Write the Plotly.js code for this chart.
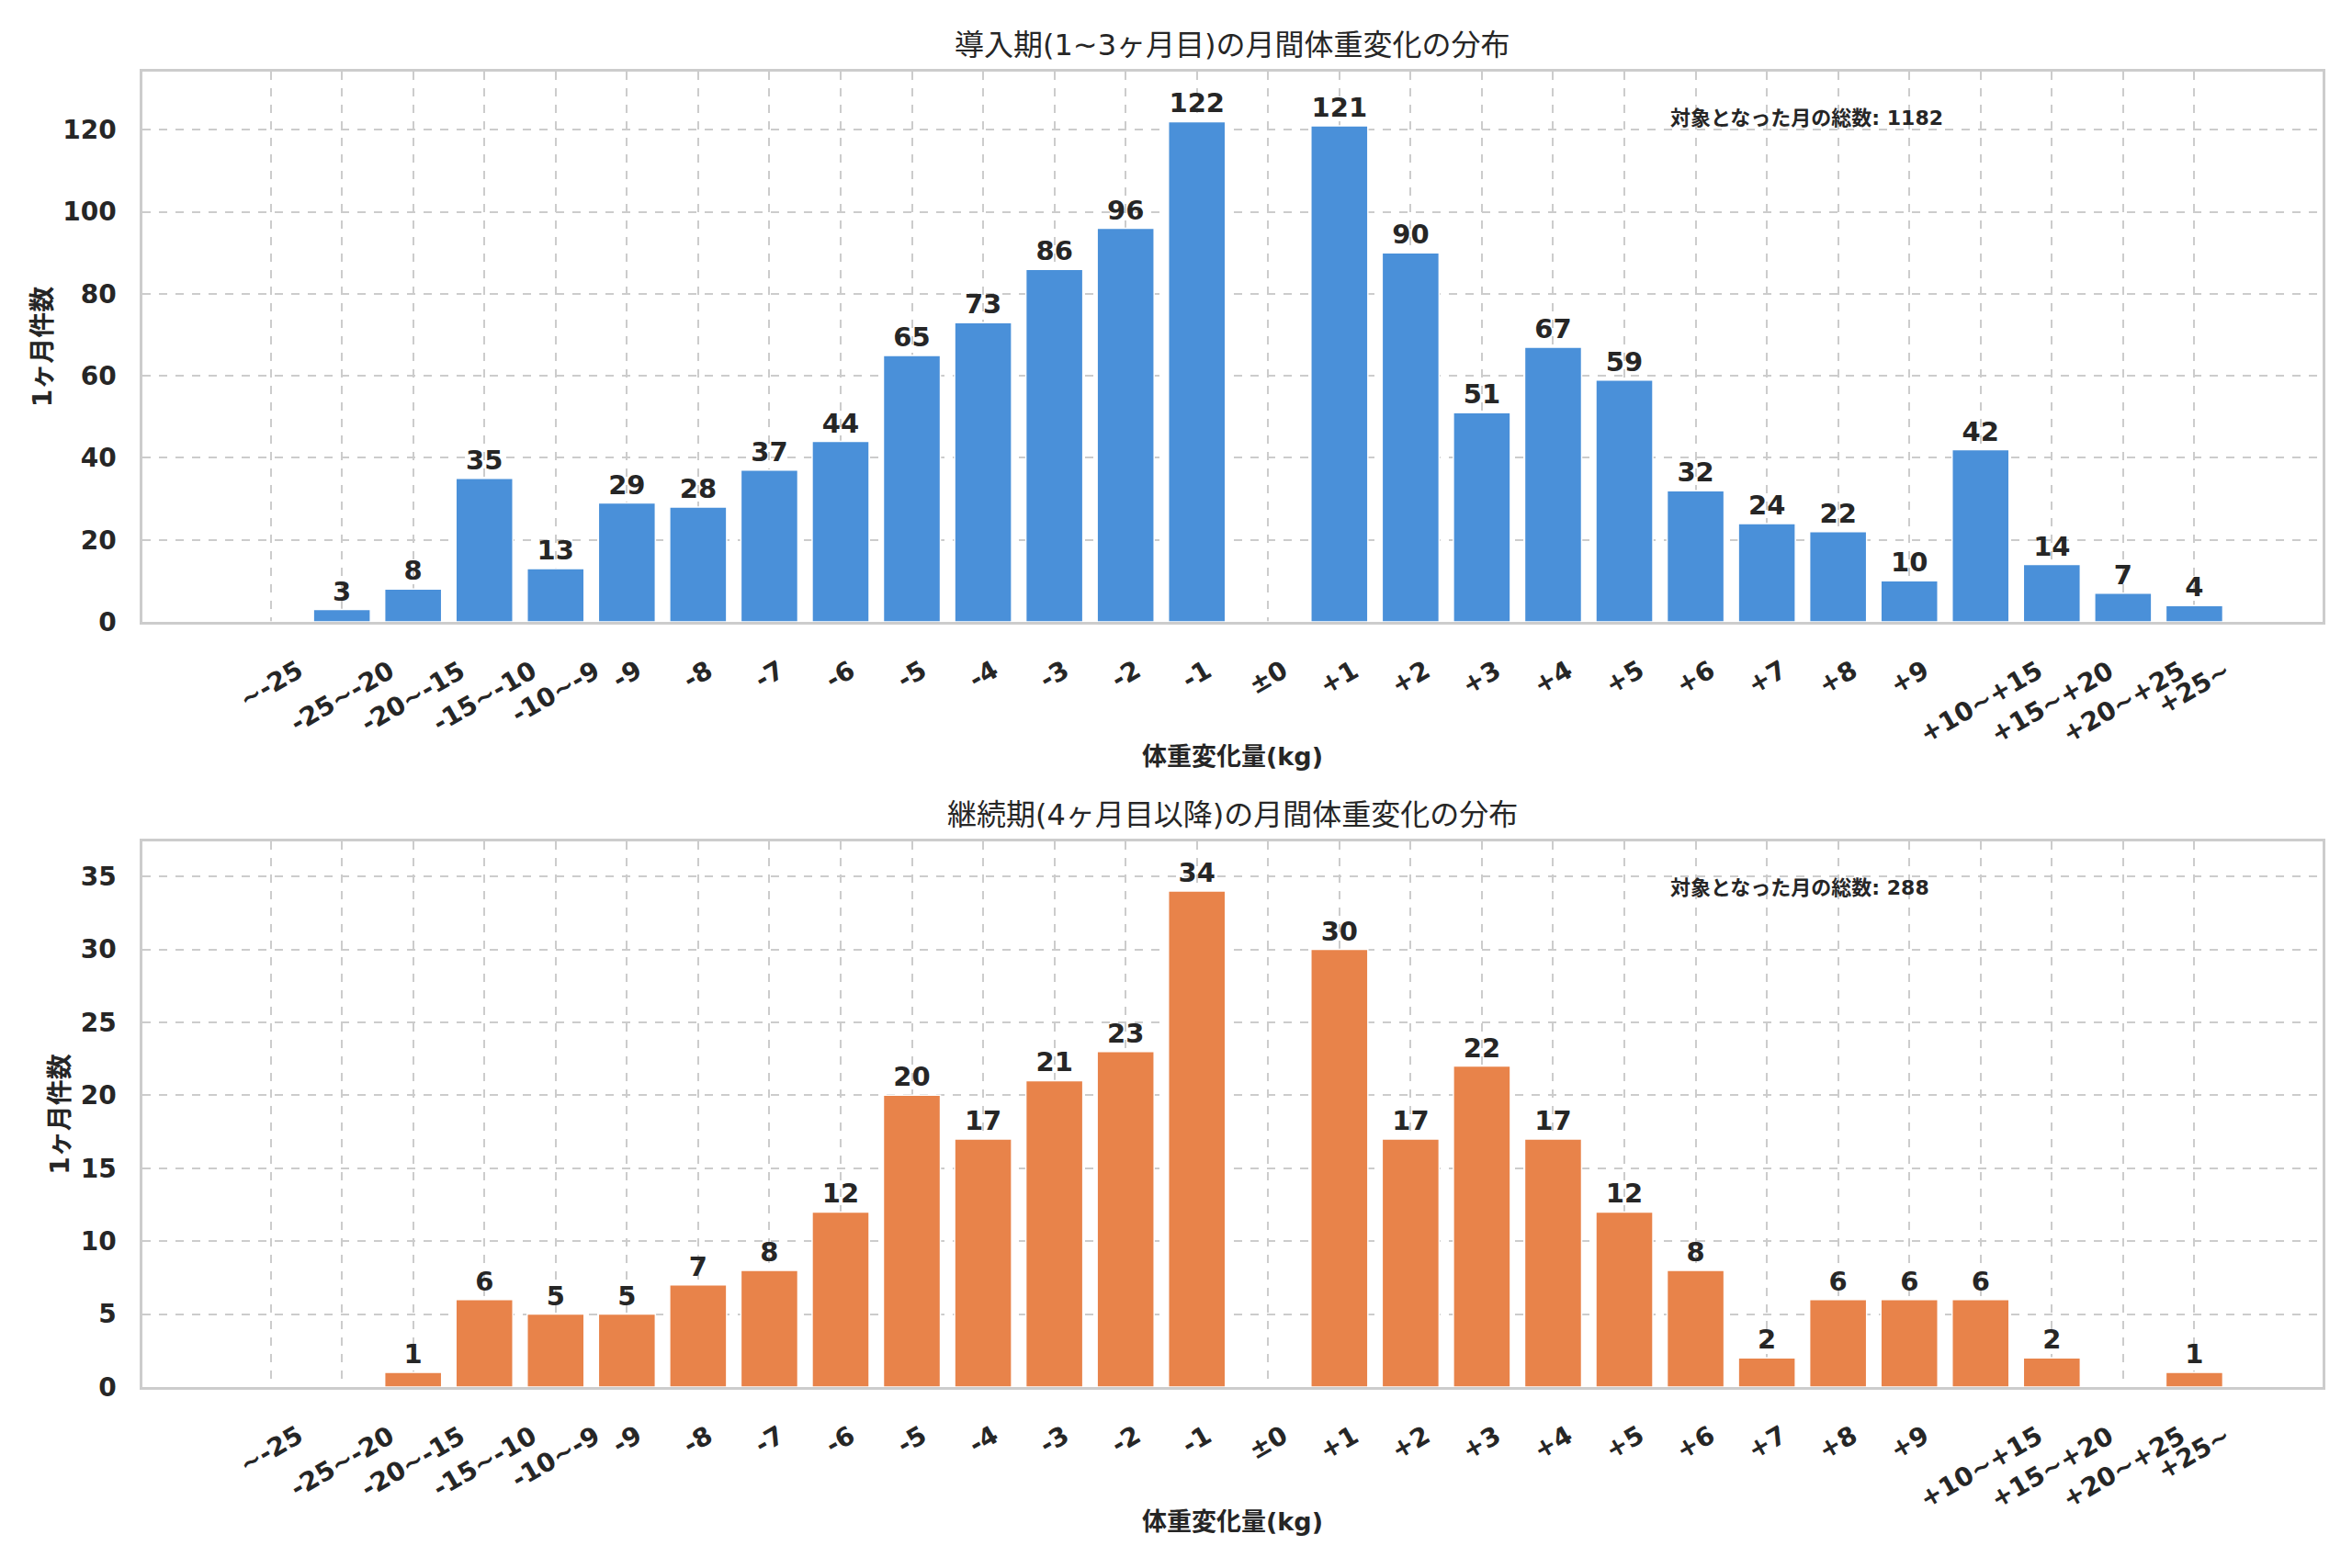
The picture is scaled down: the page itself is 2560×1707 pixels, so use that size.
<!DOCTYPE html>
<html>
<head>
<meta charset="utf-8">
<script src="https://cdn.plot.ly/plotly-3.0.1.min.js"></script>
<style>
  body { margin: 0; background: #fff; }
  #chart { width: 2560px; height: 1707px; }
</style>
</head>
<body>
<div id="chart"></div>
<script>
// weight change bins (kg per month)
const categories = ['~-25', '-25~-20', '-20~-15', '-15~-10', '-10~-9', '-9', '-8', '-7', '-6', '-5',
  '-4', '-3', '-2', '-1', '±0', '+1', '+2', '+3', '+4', '+5', '+6', '+7', '+8', '+9',
  '+10~+15', '+15~+20', '+20~+25', '+25~'];

// months 1-3
const shortTerm = [0, 3, 8, 35, 13, 29, 28, 37, 44, 65, 73, 86, 96, 122, 0,
  121, 90, 51, 67, 59, 32, 24, 22, 10, 42, 14, 7, 4];

// month 4 onwards
const longTerm = [0, 0, 1, 6, 5, 5, 7, 8, 12, 20, 17, 21, 23, 34, 0,
  30, 17, 22, 17, 12, 8, 2, 6, 6, 6, 2, 0, 1];

const titles = ['導入期(1~3ヶ月目)の月間体重変化の分布', '継続期(4ヶ月目以降)の月間体重変化の分布'];
const xTitle = '体重変化量(kg)';
const yTitle = '1ヶ月件数';
const totalLabel = '対象となった月の総数';
const yTicks1 = [0, 20, 40, 60, 80, 100, 120];
const yTicks2 = [0, 5, 10, 15, 20, 25, 30, 35];

const FONT = 'DejaVu Sans, Noto Sans CJK JP, sans-serif';
const INK = '#262626';
const GRID = '#cccccc';

const sum = a => a.reduce((s, v) => s + v, 0);
const labels = a => a.map(v => (v > 0 ? String(v) : ''));

function barTrace(vals, color, xa, ya) {
  return {
    type: 'bar',
    x: categories,
    y: vals,
    xaxis: xa,
    yaxis: ya,
    width: 0.8,
    marker: { color: color, line: { color: '#ffffff', width: 1.5 } },
    text: labels(vals),
    textposition: 'outside',
    constraintext: 'none',
    cliponaxis: false,
    textfont: { family: FONT, size: 29, color: INK, weight: 'bold' },
    hoverinfo: 'x+y'
  };
}

const data = [
  barTrace(shortTerm, '#4a90d9', 'x', 'y'),
  barTrace(longTerm, '#e8834a', 'x2', 'y2')
];

function xAxis(anchor) {
  return {
    anchor: anchor,
    domain: [0, 1],
    type: 'category',
    range: [-1.8, 28.8],
    showticklabels: false,
    ticks: '',
    showgrid: true,
    gridcolor: GRID,
    gridwidth: 2,
    griddash: 'dash',
    showline: true,
    mirror: true,
    linecolor: GRID,
    linewidth: 2.5,
    zeroline: false,
    title: {
      text: xTitle,
      standoff: 136,
      font: { family: FONT, size: 27, color: INK, weight: 'bold' }
    }
  };
}

function yAxis(anchor, domain, range, ticks) {
  return {
    anchor: anchor,
    domain: domain,
    range: range,
    tickvals: ticks,
    ticks: '',
    ticklabelstandoff: 20,
    tickfont: { family: FONT, size: 28, color: INK, weight: 'bold' },
    showgrid: true,
    gridcolor: GRID,
    gridwidth: 2,
    griddash: 'dash',
    showline: true,
    mirror: true,
    linecolor: GRID,
    linewidth: 2.5,
    zeroline: false,
    title: {
      text: yTitle,
      standoff: 4,
      font: { family: FONT, size: 28, color: INK, weight: 'bold' }
    }
  };
}

// rotated category labels, centred on each bar like the original
const annotations = [];
[['x', 'y'], ['x2', 'y2']].forEach(([xa, ya]) => {
  categories.forEach((c, i) => {
    annotations.push({
      x: i, y: 0, xref: xa, yref: ya,
      text: c, showarrow: false, textangle: -30,
      xanchor: 'center', yanchor: 'top', yshift: -33,
      font: { family: FONT, size: 28, color: INK, weight: 'bold' }
    });
  });
});

[['y', shortTerm, 0], ['y2', longTerm, 1]].forEach(([ya, vals, i]) => {
  annotations.push({
    x: 0.5, y: 1, xref: 'paper', yref: ya + ' domain',
    text: titles[i], showarrow: false,
    xanchor: 'center', yanchor: 'bottom', yshift: 8,
    font: { family: FONT, size: 32, color: INK }
  });
  annotations.push({
    x: 0.7, y: 0.94, xref: 'paper', yref: ya + ' domain',
    text: totalLabel + ': ' + sum(vals), showarrow: false,
    xanchor: 'left', yanchor: 'top',
    font: { family: FONT, size: 22, color: INK, weight: 'bold' }
  });
});

const layout = {
  width: 2560,
  height: 1707,
  margin: { l: 155, r: 32, t: 78, b: 197 },
  paper_bgcolor: '#ffffff',
  plot_bgcolor: '#ffffff',
  showlegend: false,
  bargap: 0.2,
  font: { family: FONT, color: INK },
  xaxis: xAxis('y'),
  yaxis: yAxis('x', [0.5817, 1], [0, 134.2], yTicks1),
  xaxis2: xAxis('y2'),
  yaxis2: yAxis('x2', [0, 0.4148], [0, 37.4], yTicks2),
  annotations: annotations
};

Plotly.newPlot('chart', data, layout, { displayModeBar: false });
</script>
</body>
</html>
